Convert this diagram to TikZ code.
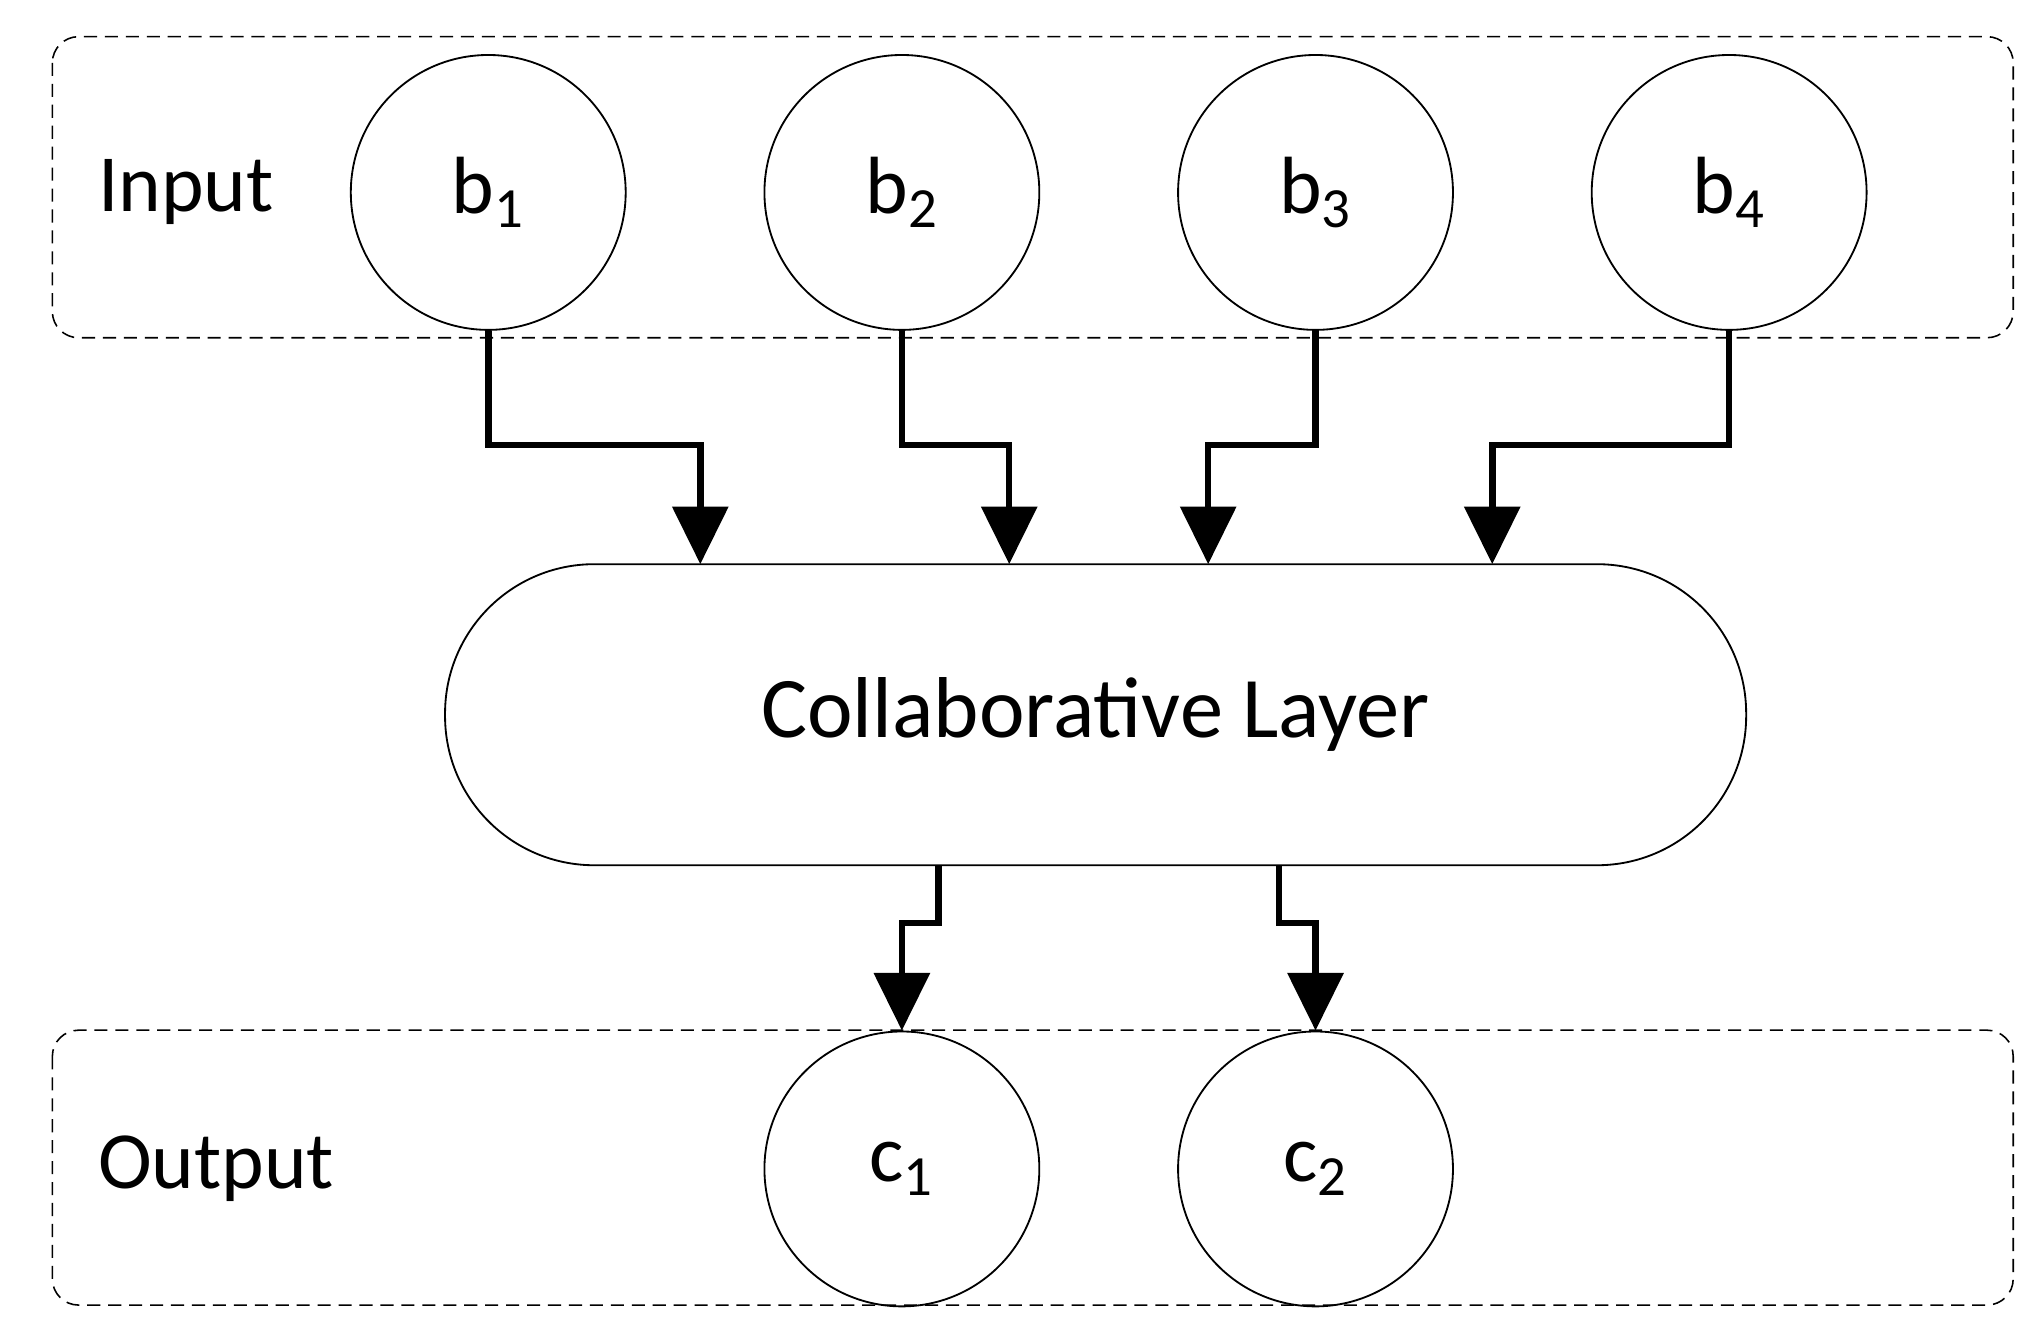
\documentclass[tikz,border=0pt]{standalone}
\usepackage{fontspec}
\setmainfont{Carlito}
\usetikzlibrary{arrows.meta}
\begin{document}
\begin{tikzpicture}[x=0.5pt,y=-0.5pt,
  box/.style={draw,dash pattern=on 5pt off 3pt,line width=0.6pt,rounded corners=10pt},
  circ/.style={draw,circle,line width=0.7pt,minimum size=105pt,inner sep=0pt,font=\fontsize{31}{36}\selectfont},
  lab/.style={font=\fontsize{31}{36}\selectfont},
  arr/.style={line width=2.5pt,-{Triangle[length=22pt,width=21pt]}}]
\useasboundingbox (0,0) rectangle (1560,1025);
\draw[box] (40,28) rectangle (1538,258);
\draw[box] (40,787) rectangle (1538,997);
\node[lab,anchor=west] (in) at (68,147) {Input};
\node[lab,anchor=west] (out) at (68,893) {Output};
\node[circ] (b1) at (373,147) {b\textsubscript{1}};
\node[circ] (b2) at (689,147) {b\textsubscript{2}};
\node[circ] (b3) at (1005,147) {b\textsubscript{3}};
\node[circ] (b4) at (1321,147) {b\textsubscript{4}};
\node[circ] (c1) at (689,893) {c\textsubscript{1}};
\node[circ] (c2) at (1005,893) {c\textsubscript{2}};
\node[draw,line width=0.7pt,rounded corners=57pt,minimum width=497pt,minimum height=115pt,font=\fontsize{33}{38}\selectfont] (cl) at (837,546) {Collaborative Layer};
\coordinate (h) at (0,340);
\coordinate (t1) at (535,431);
\coordinate (t2) at (771,431);
\coordinate (t3) at (923,431);
\coordinate (t4) at (1140,431);
\draw[arr] (b1.south) -- (b1.south |- h) -| (t1);
\draw[arr] (b2.south) -- (b2.south |- h) -| (t2);
\draw[arr] (b3.south) -- (b3.south |- h) -| (t3);
\draw[arr] (b4.south) -- (b4.south |- h) -| (t4);
\coordinate (s1) at (717,661);
\coordinate (s2) at (977,661);
\coordinate (g) at (0,705);
\draw[arr] (s1) -- (s1 |- g) -| (c1.north);
\draw[arr] (s2) -- (s2 |- g) -| (c2.north);
\end{tikzpicture}
\end{document}
